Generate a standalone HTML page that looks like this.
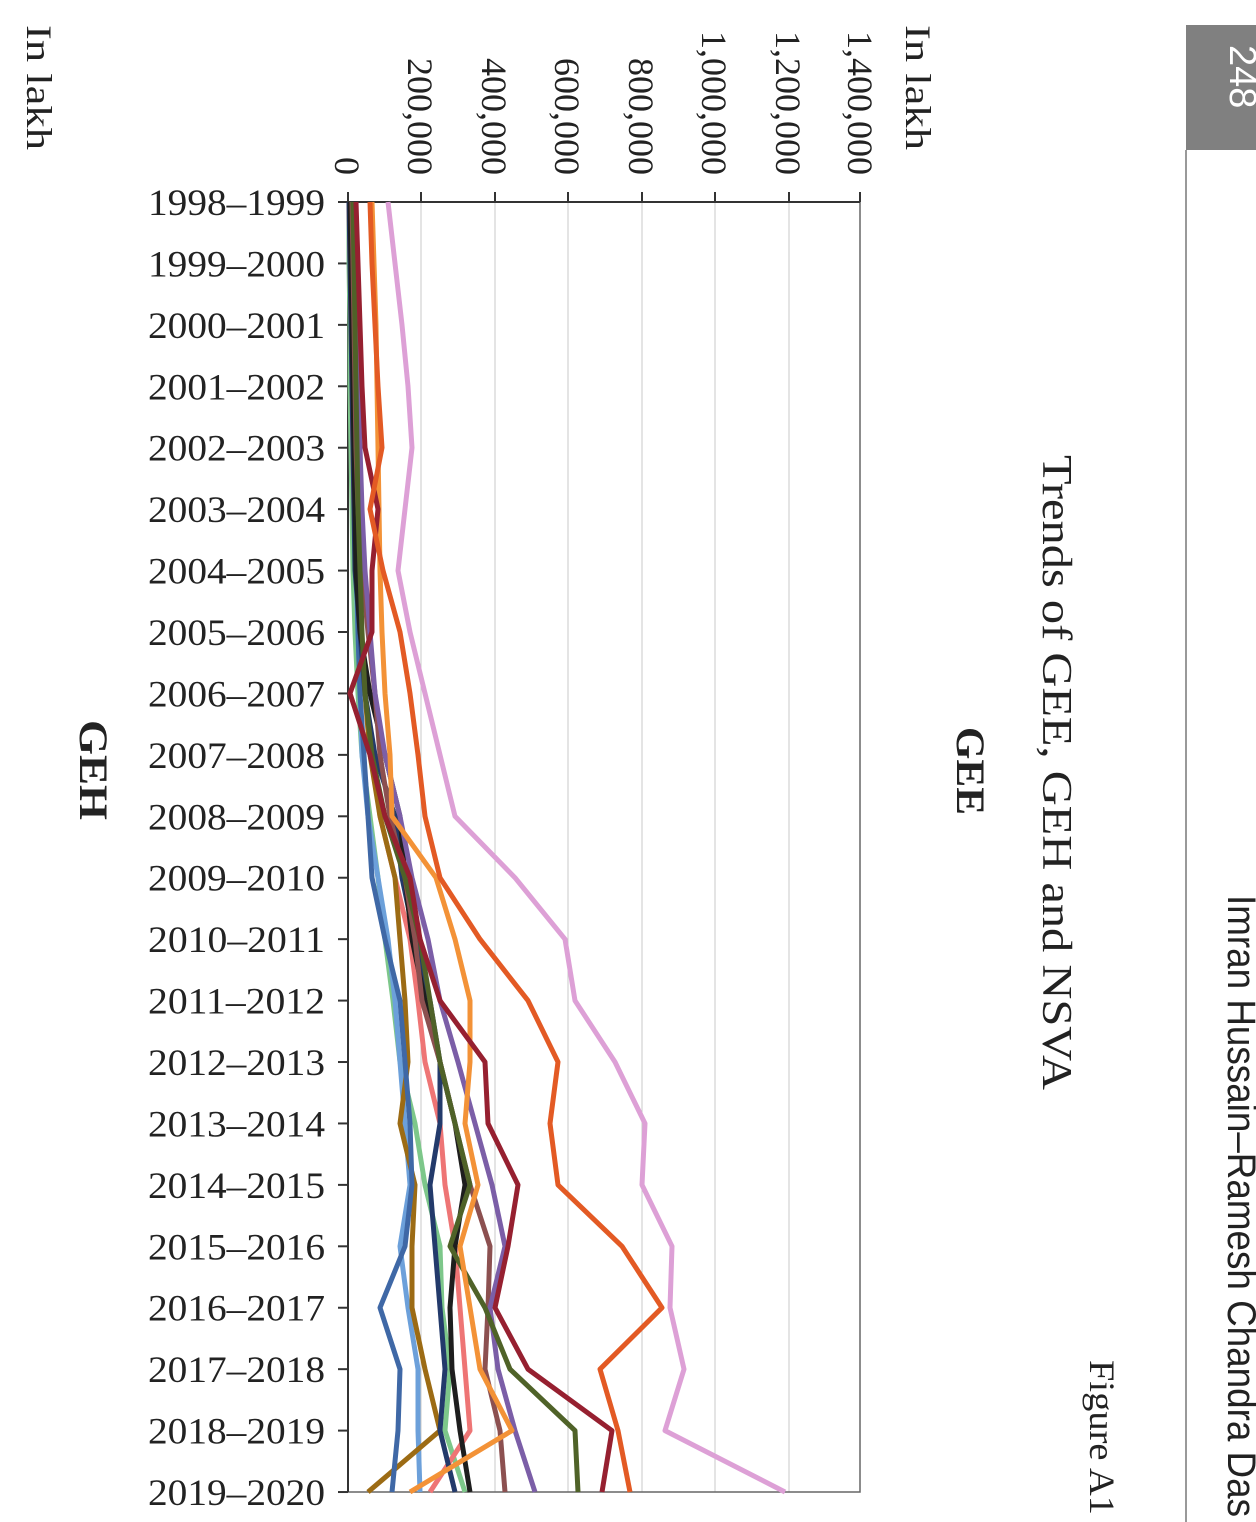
<!DOCTYPE html>
<html><head><meta charset="utf-8"><style>
html,body{margin:0;padding:0;background:#fff;}
svg{display:block;}
.s{font-family:"Liberation Serif",serif;fill:#222;}
</style></head><body>
<svg width="1256" height="1522" viewBox="0 0 1256 1522" xmlns="http://www.w3.org/2000/svg">
<rect width="1256" height="1522" fill="#fff"/>
<rect x="1186" y="25" width="70" height="125" fill="#808080"/>
<text transform="translate(1230,45) rotate(90)" font-family="Liberation Sans,sans-serif" font-size="38" fill="#fff">248</text>
<line x1="1186" y1="150" x2="1186" y2="1522" stroke="#999" stroke-width="2"/>
<text transform="translate(1228,895) rotate(90)" font-family="Liberation Sans,sans-serif" font-size="40" fill="#222" textLength="622" lengthAdjust="spacingAndGlyphs">Imran Hussain–Ramesh Chandra Das</text>
<text class="s" transform="translate(1090,1360) rotate(90)" font-size="36" textLength="155" lengthAdjust="spacingAndGlyphs">Figure A1</text>
<text class="s" transform="translate(1043,455) rotate(90)" font-size="42" textLength="635" lengthAdjust="spacingAndGlyphs">Trends of GEE, GEH and NSVA</text>
<text class="s" transform="translate(957,727) rotate(90)" font-size="40" font-weight="bold" textLength="88" lengthAdjust="spacingAndGlyphs">GEE</text>
<text class="s" transform="translate(80,720) rotate(90)" font-size="40" font-weight="bold" textLength="100" lengthAdjust="spacingAndGlyphs">GEH</text>
<text class="s" transform="translate(906,25) rotate(90)" font-size="36" textLength="125" lengthAdjust="spacingAndGlyphs">In lakh</text>
<text class="s" transform="translate(27,25) rotate(90)" font-size="36" textLength="125" lengthAdjust="spacingAndGlyphs">In lakh</text>
<g stroke="#c8c8c8" stroke-width="1">
<line x1="421" y1="202" x2="421" y2="1492"/><line x1="495" y1="202" x2="495" y2="1492"/>
<line x1="568" y1="202" x2="568" y2="1492"/><line x1="642" y1="202" x2="642" y2="1492"/>
<line x1="715" y1="202" x2="715" y2="1492"/><line x1="789" y1="202" x2="789" y2="1492"/>
</g>
<rect x="348" y="202" width="512" height="1290" fill="none" stroke="#666" stroke-width="1.5"/>
<line x1="348" y1="202" x2="348" y2="1492" stroke="#333" stroke-width="2"/>
<line x1="348" y1="202" x2="860" y2="202" stroke="#333" stroke-width="2"/>
<g stroke="#333" stroke-width="2">
<line x1="348" y1="192" x2="348" y2="202"/><line x1="421" y1="192" x2="421" y2="202"/><line x1="495" y1="192" x2="495" y2="202"/><line x1="568" y1="192" x2="568" y2="202"/><line x1="642" y1="192" x2="642" y2="202"/><line x1="715" y1="192" x2="715" y2="202"/><line x1="789" y1="192" x2="789" y2="202"/><line x1="860" y1="192" x2="860" y2="202"/>
</g>
<g class="s" font-size="36" text-anchor="end">
<text transform="translate(335,175) rotate(90)">0</text>
<text transform="translate(408,175) rotate(90)">200,000</text>
<text transform="translate(482,175) rotate(90)">400,000</text>
<text transform="translate(555,175) rotate(90)">600,000</text>
<text transform="translate(629,175) rotate(90)">800,000</text>
<text transform="translate(702,175) rotate(90)">1,000,000</text>
<text transform="translate(776,175) rotate(90)">1,200,000</text>
<text transform="translate(848,175) rotate(90)">1,400,000</text>
</g>
<g id="cats" class="s" font-size="37"></g>
<g id="ticks" stroke="#333" stroke-width="2"></g>
<g id="lines" fill="none" stroke-width="5" stroke-linejoin="round"></g>
</svg>
<script>
var NS="http://www.w3.org/2000/svg";
var cats=document.getElementById("cats"),ticks=document.getElementById("ticks"),lines=document.getElementById("lines");
function Y(i){return 202+i*61.43;}
for(var i=0;i<22;i++){
 var t=document.createElementNS(NS,"text");t.setAttribute("x",148);t.setAttribute("y",Y(i)+13);
 t.setAttribute("textLength",177);t.setAttribute("lengthAdjust","spacingAndGlyphs");
 t.textContent=(1998+i)+"–"+(1999+i);cats.appendChild(t);
 var l=document.createElementNS(NS,"line");l.setAttribute("x1",338);l.setAttribute("x2",348);l.setAttribute("y1",Y(i));l.setAttribute("y2",Y(i));ticks.appendChild(l);
}
var S=[
["#7DC78A",[349,349,350,350,351,352,353,355,358,362,370,378,385,393,400,415,425,440,442,450,445,465]],
["#6CA0DA",[350,351,352,353,354,355,356,358,360,362,368,378,388,395,400,405,410,400,408,418,418,420]],
["#EE7575",[349,350,351,352,353,354,356,360,365,372,380,395,410,418,425,440,445,455,460,465,470,430]],
["#9C6B14",[350,351,352,353,354,355,357,360,365,370,380,395,400,405,408,400,415,412,412,425,440,368]],
["#3F68A6",[351,352,353,354,355,356,357,358,360,364,368,372,385,400,405,410,412,405,380,400,398,392]],
["#233A6B",[349,350,351,352,353,354,355,360,365,375,395,402,415,430,440,440,430,435,440,445,440,455]],
["#1E1E1E",[350,351,352,353,354,355,356,360,370,385,400,405,412,425,440,455,465,455,450,452,460,470]],
["#8C5050",[352,353,354,355,356,358,362,368,375,380,390,405,415,422,440,455,470,490,488,485,500,505]],
["#7B5EA7",[354,355,356,358,360,362,365,370,375,385,400,412,428,440,458,475,492,505,490,498,515,535]],
["#4F6228",[353,354,355,356,357,358,360,362,365,372,385,405,420,430,440,455,470,450,485,510,575,578]],
["#F39237",[372,374,376,377,378,379,380,382,385,390,392,436,455,470,470,465,478,460,470,480,512,410]],
["#962030",[356,358,360,362,365,378,372,372,350,370,385,410,420,440,485,488,518,508,495,528,612,602]],
["#E35A24",[370,372,375,378,382,370,383,400,410,418,425,440,480,528,558,550,558,622,662,600,618,630]],
["#DDA0D6",[388,395,402,408,412,405,398,410,425,440,455,515,565,575,615,645,642,672,670,684,665,785]]
];
S.forEach(function(s){var p=document.createElementNS(NS,"polyline");
 p.setAttribute("points",s[1].map(function(x,i){return x+","+Y(i).toFixed(1);}).join(" "));
 p.setAttribute("stroke",s[0]);lines.appendChild(p);});
</script>
</body></html>
